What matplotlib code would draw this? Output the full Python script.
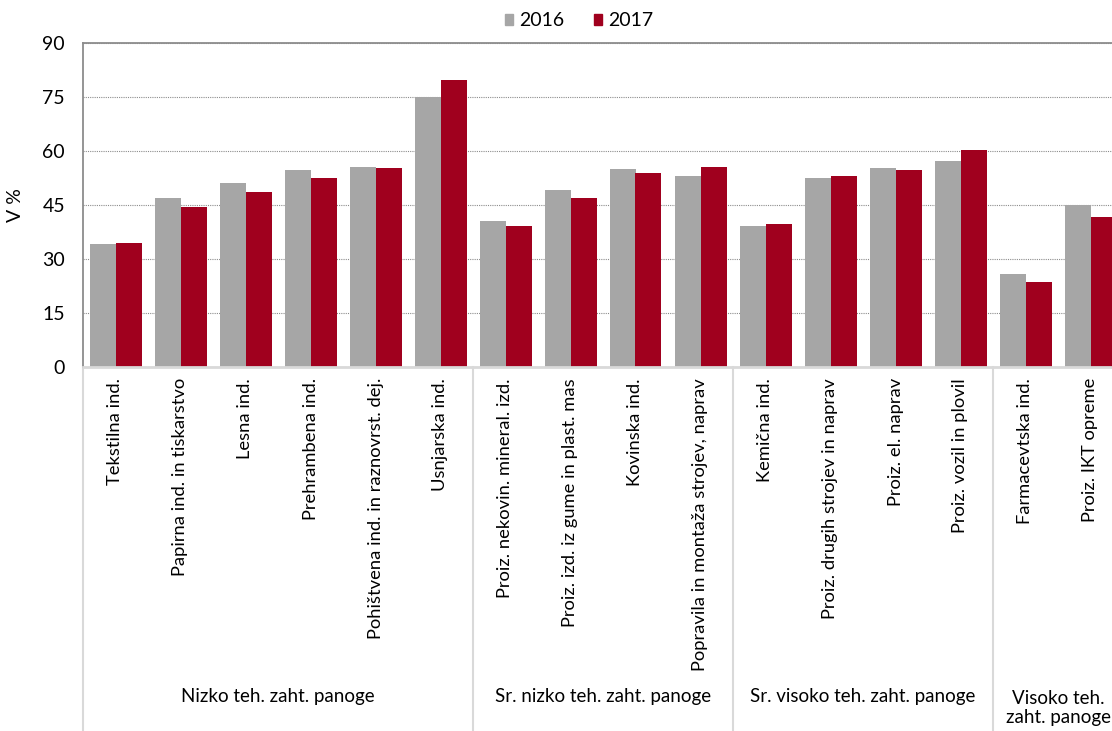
"""Grouped bars, 2016 vs 2017, per manufacturing branch (V %)."""

import matplotlib

matplotlib.use("Agg")

import matplotlib.pyplot as plt
import matplotlib.transforms as mtransforms
import numpy as np
from matplotlib.patches import Patch

CATEGORIES = [
    "Tekstilna ind.",
    "Papirna ind. in tiskarstvo",
    "Lesna ind.",
    "Prehrambena ind.",
    "Pohištvena ind. in raznovrst. dej.",
    "Usnjarska ind.",
    "Proiz. nekovin. mineral. izd.",
    "Proiz. izd. iz gume in plast. mas",
    "Kovinska ind.",
    "Popravila in montaža strojev, naprav",
    "Kemična ind.",
    "Proiz. drugih strojev in naprav",
    "Proiz. el. naprav",
    "Proiz. vozil in plovil",
    "Farmacevtska ind.",
    "Proiz. IKT opreme",
]
VALUES_2016 = [34.2, 46.9, 51.1, 54.7, 55.6, 75.1, 40.5, 49.2,
               55.1, 53.1, 39.3, 52.6, 55.4, 57.3, 25.9, 44.9]
VALUES_2017 = [34.4, 44.4, 48.7, 52.4, 55.4, 79.6, 39.3, 46.9,
               54.0, 55.6, 39.6, 53.1, 54.6, 60.3, 23.7, 41.8]

GROUP_NAMES = [
    "Nizko teh. zaht. panoge",
    "Sr. nizko teh. zaht. panoge",
    "Sr. visoko teh. zaht. panoge",
    "Visoko teh.\nzaht. panoge",
]
GROUP_SIZES = [6, 4, 4, 2]

SERIES_NAMES = ["2016", "2017"]
COLOR_2016 = "#A6A6A6"
COLOR_2017 = "#A0001E"

FONT = ["Lato", "DejaVu Sans"]
plt.rcParams["font.family"] = FONT
plt.rcParams["text.color"] = "black"

W, H = 1112, 731
fig = plt.figure(figsize=(W / 100, H / 100), dpi=100)

# plot box: left 83 px, 65 px per category (runs past the right edge)
left_px, top_px, bottom_px, cat_px = 83, 43, 367, 65
ax = fig.add_axes([
    left_px / W,
    1 - bottom_px / H,
    cat_px * len(CATEGORIES) / W,
    (bottom_px - top_px) / H,
])

x = np.arange(len(CATEGORIES))
bw = 0.4
ax.bar(x - bw / 2, VALUES_2016, width=bw, color=COLOR_2016, zorder=3)
ax.bar(x + bw / 2, VALUES_2017, width=bw, color=COLOR_2017, zorder=3)

ax.set_xlim(-0.5, len(CATEGORIES) - 0.5)
ax.set_ylim(0, 90)
ax.set_yticks(np.arange(0, 91, 15))
ax.tick_params(axis="y", length=0, pad=13, labelsize=14)
ax.yaxis.grid(True, linestyle=(0, (1, 1)), color="#8c8c8c", linewidth=0.8,
              zorder=0)
ax.set_ylabel("V %", fontsize=14, labelpad=13)

ax.set_xticks(x)
ax.set_xticklabels(CATEGORIES, rotation=90, fontsize=13.2, va="top",
                   ha="center")
ax.tick_params(axis="x", length=0, pad=8)

for side in ("top", "left"):
    ax.spines[side].set_color("#8c8c8c")
    ax.spines[side].set_linewidth(1.3)
ax.spines["right"].set_visible(False)
ax.spines["bottom"].set_color("#d9d9d9")
ax.spines["bottom"].set_linewidth(2)
ax.spines["bottom"].set_zorder(4)

# group separators and group names below the category labels
trans = mtransforms.blended_transform_factory(ax.transData, ax.transAxes)
bottom_axes = -(H - bottom_px) / (bottom_px - top_px)
edges = np.concatenate([[0], np.cumsum(GROUP_SIZES)]) - 0.5
for e in edges[:-1]:
    ax.plot([e, e], [0, bottom_axes], transform=trans, color="#d9d9d9",
            linewidth=1.5, clip_on=False)
name_y = -(697 - bottom_px) / (bottom_px - top_px)
for name, a, b in zip(GROUP_NAMES, edges[:-1], edges[1:]):
    yy = name_y if "\n" not in name else name_y - 0.035
    ax.text((a + b) / 2, yy, name, transform=trans, ha="center",
            va="center", fontsize=13.5, linespacing=1.15)

handles = [Patch(color=COLOR_2016), Patch(color=COLOR_2017)]
fig.legend(handles, SERIES_NAMES, loc="center",
           bbox_to_anchor=(579 / W, 1 - 21 / H), ncol=2, frameon=False,
           fontsize=14, handlelength=0.45, handleheight=0.45,
           handletextpad=0.3, columnspacing=1.5)

fig.savefig("out.png", dpi=100, facecolor="white")
